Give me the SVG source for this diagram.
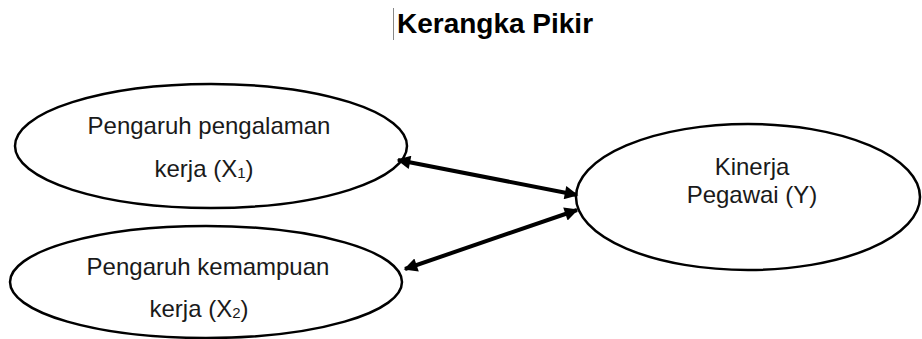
<svg xmlns="http://www.w3.org/2000/svg" width="922" height="339" viewBox="0 0 922 339">
<style>
.node{fill:#fff;stroke:#000;stroke-width:2.5}
.t{font-family:"Liberation Sans",Arial,sans-serif;font-size:24px;fill:#1a1a1a;text-anchor:middle}
.sub{font-size:15px}
.title{font-family:"Liberation Sans",Arial,sans-serif;font-size:28px;font-weight:bold;fill:#000;text-anchor:middle}
.conn{stroke:#000;stroke-width:4;fill:none;marker-start:url(#ah);marker-end:url(#ah)}
</style>
<defs>
<marker id="ah" viewBox="0 0 10 10" refX="9" refY="5" markerWidth="4" markerHeight="3.4" orient="auto-start-reverse" markerUnits="strokeWidth">
<path d="M0,0 L10,5 L0,10 z" fill="#000"/>
</marker>
</defs>
<line x1="393.5" y1="8" x2="393.5" y2="40" stroke="#888" stroke-width="1"/>
<text class="title" x="495" y="33">Kerangka Pikir</text>
<g id="x1">
<ellipse class="node" cx="211" cy="146" rx="196" ry="62"/>
<text class="t" x="209" y="134">Pengaruh pengalaman</text>
<text class="t" x="204" y="177">kerja (X<tspan class="sub" dy="1">1</tspan><tspan dy="-1">)</tspan></text>
</g>
<g id="x2">
<ellipse class="node" cx="206" cy="282" rx="196" ry="56"/>
<text class="t" x="208" y="275">Pengaruh kemampuan</text>
<text class="t" x="199" y="317">kerja (X<tspan class="sub" dy="1">2</tspan><tspan dy="-1">)</tspan></text>
</g>
<g id="y">
<ellipse class="node" cx="748" cy="197" rx="172" ry="73"/>
<text class="t" x="752" y="175">Kinerja</text>
<text class="t" x="752" y="203">Pegawai (Y)</text>
</g>
<g id="connectors">
<line class="conn" x1="398" y1="160" x2="577" y2="195"/>
<line class="conn" x1="405" y1="269" x2="577" y2="210"/>
</g>
</svg>
